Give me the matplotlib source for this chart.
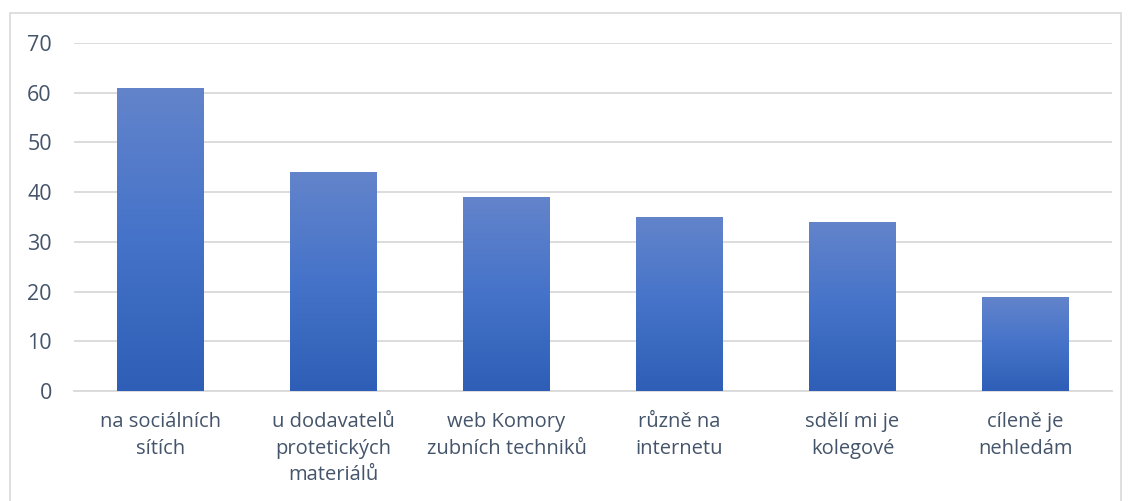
import matplotlib
matplotlib.use("Agg")
import matplotlib.pyplot as plt
import numpy as np
from matplotlib.patches import Rectangle
from matplotlib.colors import LinearSegmentedColormap

categories = [
    "na sociálních\nsítích",
    "u dodavatelů\nprotetických\nmateriálů",
    "web Komory\nzubních techniků",
    "různě na\ninternetu",
    "sdělí mi je\nkolegové",
    "cíleně je\nnehledám",
]
values = [61, 44, 39, 35, 34, 19]
yticks = [0, 10, 20, 30, 40, 50, 60, 70]

plt.rcParams["font.family"] = ["Open Sans", "DejaVu Sans"]
text_color = "#44546A"
grid_color = "#D9D9D9"

fig = plt.figure(figsize=(11.29, 5.01), dpi=100)
ax = fig.add_axes([74 / 1129, 1 - 391 / 501, (1112 - 74) / 1129, (391 - 43) / 501])

x = np.arange(len(categories))
bars = ax.bar(x, values, width=0.5, color="none", zorder=3)

# vertical gradient: lighter at top, darker at bottom
cmap = LinearSegmentedColormap.from_list("grad", ["#2E5EB6", "#4573C9", "#6384CB"])
grad = np.linspace(0, 1, 256).reshape(-1, 1)
for b in bars:
    x0, w, h = b.get_x(), b.get_width(), b.get_height()
    im = ax.imshow(grad, cmap=cmap, origin="lower", aspect="auto",
                   extent=[x0, x0 + w, 0, h], zorder=3)
    im.set_clip_path(b)

ax.set_xlim(-0.5, len(categories) - 0.5)
ax.set_ylim(0, 70)
ax.set_yticks(yticks)
ax.set_xticks(x)
ax.set_xticklabels(categories, fontsize=14.5, color=text_color, linespacing=1.45)
ax.tick_params(axis="y", labelsize=15.5, labelcolor=text_color, length=0, pad=16)
ax.tick_params(axis="x", length=0, pad=15)
ax.grid(axis="y", color=grid_color, linewidth=1.3, zorder=0)
for s in ["top", "right", "left"]:
    ax.spines[s].set_visible(False)
ax.spines["bottom"].set_color(grid_color)
ax.spines["bottom"].set_linewidth(1.3)

# outer chart border
fig.patches.append(Rectangle((10 / 1129, -0.01), 1111 / 1129, 1 - 13 / 501 + 0.01,
                             transform=fig.transFigure, fill=False,
                             edgecolor="#D9D9D9", linewidth=1.2))

fig.savefig("out.png", dpi=100)
